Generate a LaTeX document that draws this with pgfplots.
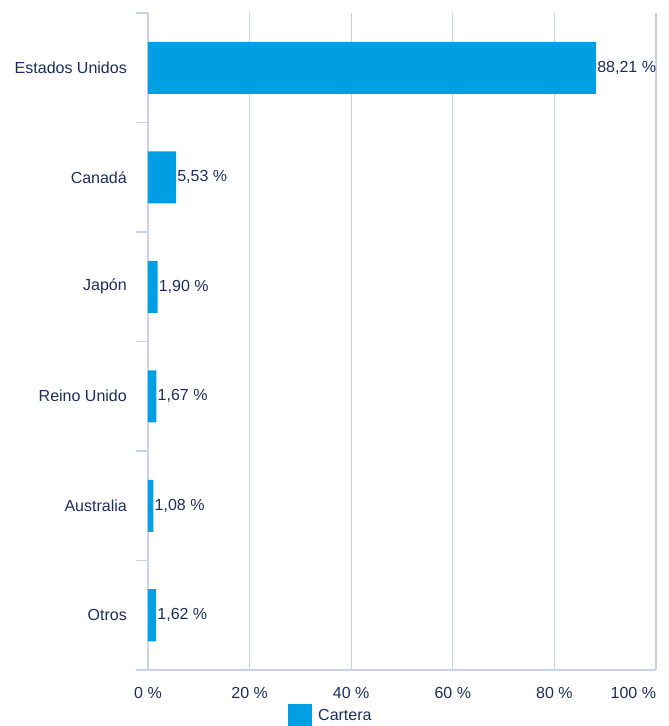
\documentclass[border=0pt]{standalone}
\usepackage{fontspec}
\setmainfont{Liberation Sans}
\usepackage{pgfplots}
\pgfplotsset{compat=1.18}
\definecolor{barblue}{RGB}{0,159,227}
\definecolor{gridc}{RGB}{200,212,230}
\definecolor{txt}{RGB}{27,45,90}
\newcommand{\lblfont}{\fontsize{16}{19}\selectfont}
\begin{document}
\begin{tikzpicture}
\path[use as bounding box] (-148pt,-56pt) rectangle (521pt,670pt);
\begin{axis}[
  scale only axis, width=508pt, height=657pt,
  xmin=0, xmax=100, ymin=-0.5, ymax=5.5,
  axis x line=bottom, axis y line=left,
  axis line style={-, draw=gridc, line width=1.3pt},
  xtick={0,20,...,100},
  xticklabels={0~\%,20~\%,40~\%,60~\%,80~\%,\makebox[0pt][r]{100~\%}},
  ytick={0,...,5},
  yticklabels={Otros,Australia,Reino Unido,Japón,Canadá,Estados Unidos},
  minor ytick={-0.5,0.5,...,5.5},
  major tick length=0pt, minor tick length=12pt, tick align=outside,
  minor tick style={draw=gridc, line width=1.3pt},
  xmajorgrids, major grid style={draw=gridc, line width=1.3pt},
  tick label style={font=\lblfont, text=txt, inner sep=0pt},
  yticklabel style={anchor=east, xshift=-21pt},
  xticklabel style={anchor=north, yshift=-17pt},
  legend style={draw=none, fill=none, at={(axis cs:27.56,-0.92)}, anchor=west,
    inner sep=0pt, nodes={inner sep=0pt, text=txt, font=\lblfont},
    /tikz/every odd column/.append style={column sep=6pt}},
  legend image code/.code={\fill[barblue] (0pt,-12pt) rectangle (24pt,12pt);},
]
\addplot[xbar, bar width=52pt, fill=barblue, draw=none, point meta=x,
  nodes near coords={\pgfmathprintnumber[fixed,fixed zerofill,precision=2,use comma,assume math mode=true]{\pgfplotspointmeta}~\%},
  nodes near coords align=horizontal,
  every node near coord/.append style={font=\lblfont, text=txt, inner sep=1pt, anchor=west}]
  coordinates {(88.21,5) (5.53,4) (1.90,3) (1.67,2) (1.08,1) (1.62,0)};
\addlegendentry{Cartera}
\end{axis}
\end{tikzpicture}
\end{document}
